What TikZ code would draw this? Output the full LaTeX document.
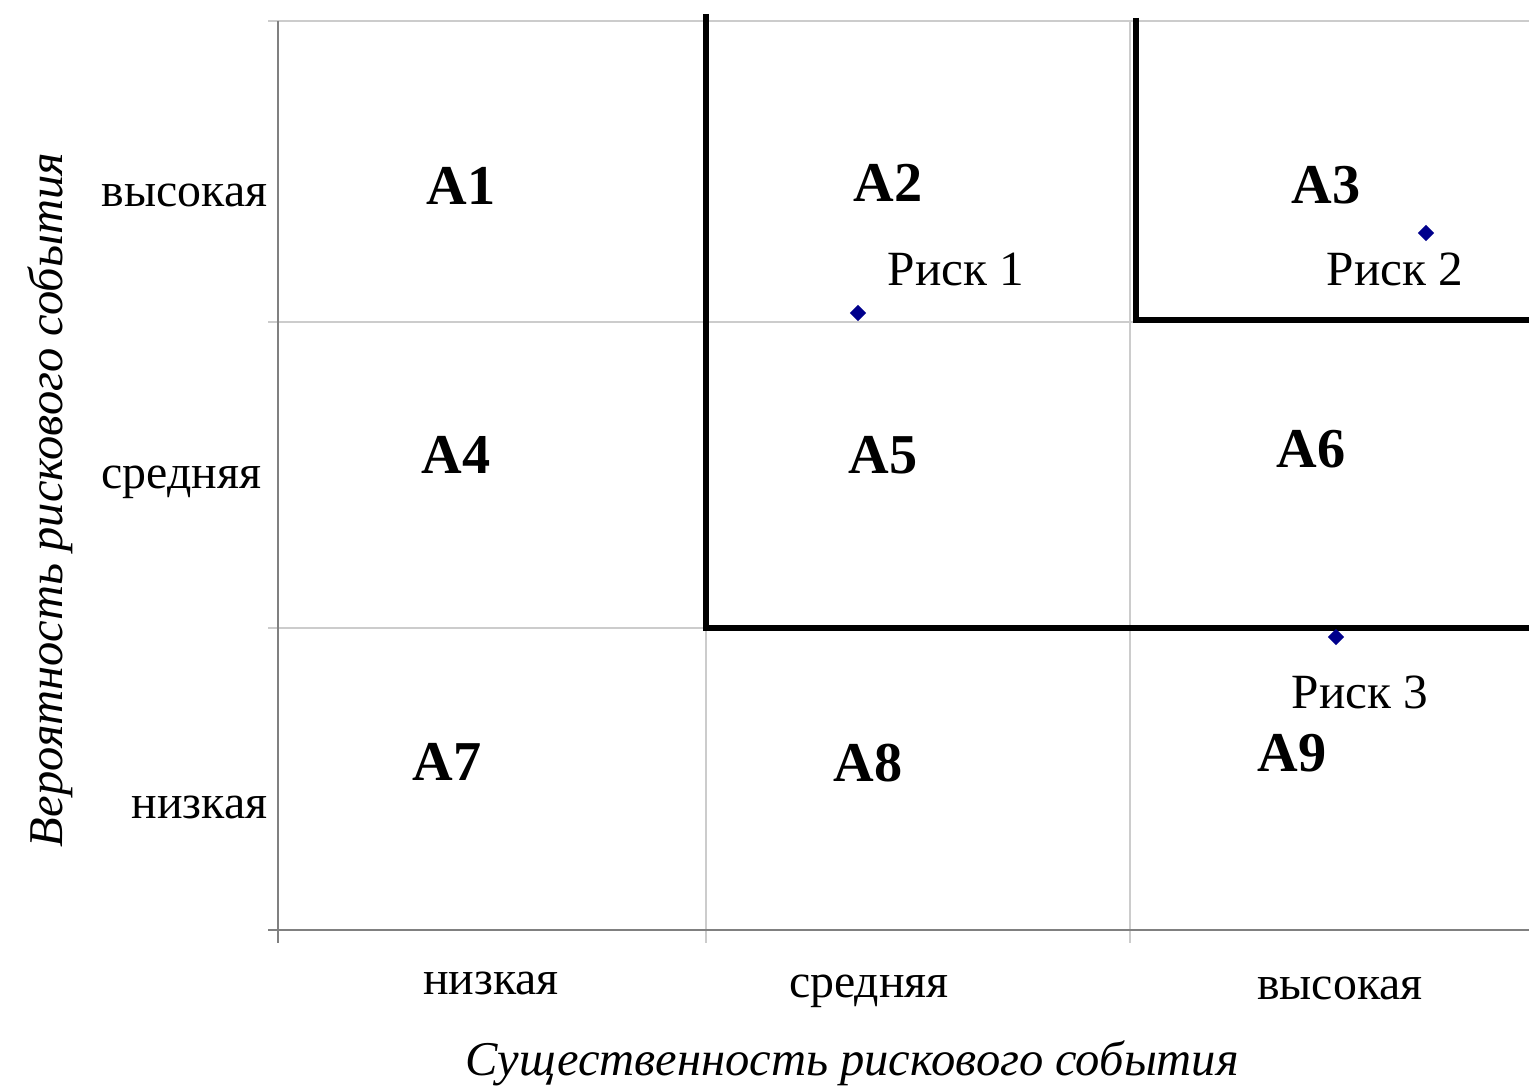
\documentclass[tikz,border=0pt]{standalone}
\usepackage{fontspec}
\setmainfont{Liberation Serif}
\usetikzlibrary{shapes.geometric, positioning}

\begin{document}
\begin{tikzpicture}[
        x=0.01cm, y=-0.01cm,
        cell/.style={font=\fontsize{16}{19}\selectfont\bfseries},
        lvl/.style={font=\fontsize{13.6}{16}\selectfont, inner sep=0pt},
        ttl/.style={font=\fontsize{13.8}{16}\selectfont\itshape, inner sep=0pt},
        riskpt/.style={diamond, fill=blue!55!black, inner sep=0pt, minimum size=0.17cm},
        risklbl/.style={font=\fontsize{14}{17}\selectfont},
        gridln/.style={draw=black!20, line width=0.5pt},
        axisln/.style={draw=black!50, line width=0.7pt},
        zone/.style={line width=1.8pt},
    ]
    \useasboundingbox (0,0) rectangle (1529,1088);

    % grid
    \foreach \yy in {21,322,628}
        \draw[gridln] (268,\yy) -- (1529,\yy);
    \foreach \xx in {706,1130}
        \draw[gridln] (\xx,21) -- (\xx,943);
    \draw[axisln] (278,21) -- (278,943);
    \draw[axisln] (268,930) -- (1529,930);

    % zones
    \draw[zone] (706,14) -- (706,628) -- (1529,628);
    \draw[zone] (1136,18) -- (1136,320) -- (1529,320);

    % cells
    \node[cell] (a1) at (461,186) {A1};
    \node[cell] (a2) at (888,183) {A2};
    \node[cell] (a3) at (1326,185) {A3};
    \node[cell] (a4) at (456,455) {A4};
    \node[cell] (a5) at (883,455) {A5};
    \node[cell] (a6) at (1311,449) {A6};
    \node[cell] (a7) at (447,762) {A7};
    \node[cell] (a8) at (868,763) {A8};
    \node[cell] (a9) at (1292,753) {A9};

    % risks
    \node[riskpt] (r1) at (858,313) {};
    \node[riskpt] (r2) at (1426,233) {};
    \node[riskpt] (r3) at (1336,637) {};
    \node[risklbl] (rl1) at (956,269) {Риск 1};
    \node[risklbl] (rl2) at (1395,269) {Риск 2};
    \node[risklbl] (rl3) at (1360,692) {Риск 3};

    % axis levels
    \node[lvl, anchor=base east] (yh) at (268,207) {высокая};
    \node[lvl, anchor=base east] (ym) at (262,489) {средняя};
    \node[lvl, anchor=base east] (yl) at (268,819) {низкая};
    \node[lvl, anchor=base] (xl) at (491,994) {низкая};
    \node[lvl, anchor=base] (xm) at (869,997) {средняя};
    \node[lvl, anchor=base] (xh) at (1340,999) {высокая};

    % axis titles
    \node[ttl, anchor=base] (xtitle) at (852,1075) {Существенность рискового события};
    \node[ttl, anchor=base, rotate=90] (ytitle) at (62,500) {Вероятность рискового события};
\end{tikzpicture}
\end{document}
